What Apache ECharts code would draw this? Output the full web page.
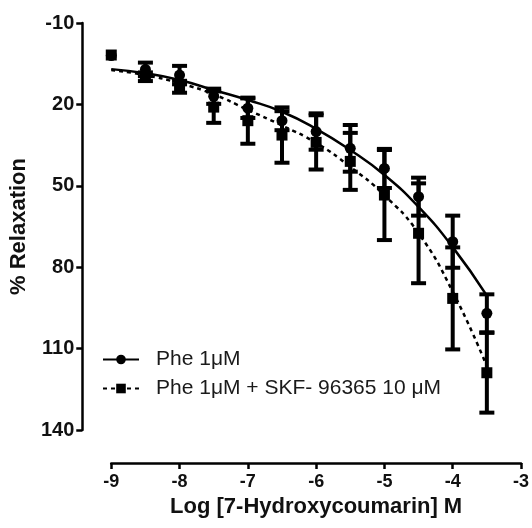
<!DOCTYPE html>
<html>
<head>
<meta charset="utf-8">
<script src="https://cdn.jsdelivr.net/npm/echarts@6/dist/echarts.min.js"></script>
<style>
html,body{margin:0;padding:0;background:#fff;}
#c{width:532px;height:528px;}
</style>
</head>
<body>
<div id="c"></div>
<script>
// log concentrations
const logConc = [-9, -8.5, -8, -7.5, -7, -6.5, -6, -5.5, -5, -4.5, -4, -3.5];
// Phe 1 uM (circles): mean and SEM
const pheMean = [2, 7.1, 9.2, 17, 21.4, 26, 30, 36.2, 43.6, 54, 70.6, 97];
const pheErr  = [0, 2.5, 3.4, 2.8, 3.6, 3.5, 6.7, 8.6, 7.2, 7, 9.6, 7];
// Phe 1 uM + SKF-96365 10 uM (squares): mean and SEM
const skfMean = [1.8, 9.8, 13.5, 21, 26, 31.3, 34, 41, 53.4, 67.5, 91.5, 118.9];
const skfErr  = [0, 1.6, 2.2, 5.8, 8.5, 10.2, 10, 10.5, 16.6, 18.4, 18.8, 14.7];
// fitted curves
const pheFit = [7.0, 8.5, 11.0, 14.7, 18.4, 22.7, 29.0, 36.8, 46.0, 57.8, 72.6, 90.5];
const skfFit = [7.3, 9.2, 12.2, 16.3, 22.0, 27.8, 34.2, 43.0, 53.5, 67.5, 89.0, 116.5];
// axes
const xTicks = [-9, -8, -7, -6, -5, -4, -3];
const yTicks = [-10, 20, 50, 80, 110, 140];

const name1 = 'Phe 1\u03bcM';
const name2 = 'Phe 1\u03bcM + SKF- 96365 10 \u03bcM';

function pairs(xs, ys) { return xs.map((x, i) => [x, ys[i]]); }
function errData(xs, m, e) { return xs.map((x, i) => [x, m[i] - e[i], m[i] + e[i]]); }

function errRender(params, api) {
  const x = api.value(0), lo = api.value(1), hi = api.value(2);
  if (hi - lo <= 0) return null;
  const a = api.coord([x, lo]), b = api.coord([x, hi]);
  const hw = 7.5;
  const st = { stroke: '#000', lineWidth: 4 };
  return {
    type: 'group',
    children: [
      { type: 'line', shape: { x1: a[0], y1: a[1], x2: b[0], y2: b[1] }, style: st },
      { type: 'line', shape: { x1: a[0] - hw, y1: a[1], x2: a[0] + hw, y2: a[1] }, style: st },
      { type: 'line', shape: { x1: b[0] - hw, y1: b[1], x2: b[0] + hw, y2: b[1] }, style: st }
    ]
  };
}

const font = 'Liberation Sans, Arial, Helvetica, sans-serif';
const chart = echarts.init(document.getElementById('c'), null, { renderer: 'canvas' });
chart.setOption({
  animation: false,
  backgroundColor: '#fff',
  grid: { left: 111, right: 9, top: 23, bottom: 98, containLabel: false },
  legend: {
    data: [name1, name2],
    orient: 'vertical',
    left: 97,
    top: 344,
    itemWidth: 36,
    itemHeight: 12,
    itemGap: 8,
    textStyle: { fontFamily: font, fontSize: 21, color: '#1a1a1a', padding: [0, 0, 0, 12] }
  },
  xAxis: {
    type: 'value',
    min: xTicks[0],
    max: xTicks[xTicks.length - 1],
    interval: 1,
    offset: 33,
    name: 'Log [7-Hydroxycoumarin] M',
    nameLocation: 'middle',
    nameGap: 33,
    nameTextStyle: { fontFamily: font, fontSize: 22, fontWeight: 'bold', color: '#111' },
    axisLine: { show: true, onZero: false, lineStyle: { color: '#000', width: 2.5 } },
    axisTick: { show: true, length: 6, lineStyle: { color: '#000', width: 2.5 } },
    axisLabel: { margin: 10, fontFamily: font, fontSize: 18, fontWeight: 'bold', color: '#111' },
    splitLine: { show: false }
  },
  yAxis: {
    type: 'value',
    inverse: true,
    min: yTicks[0],
    max: yTicks[yTicks.length - 1],
    interval: 30,
    offset: 29,
    name: '% Relaxation',
    nameLocation: 'middle',
    nameGap: 46,
    nameTextStyle: { fontFamily: font, fontSize: 22, fontWeight: 'bold', color: '#111' },
    axisLine: { show: true, onZero: false, lineStyle: { color: '#000', width: 2.5 } },
    axisTick: { show: true, length: 6, lineStyle: { color: '#000', width: 2.5 } },
    axisLabel: { margin: 8, fontFamily: font, fontSize: 20, fontWeight: 'bold', color: '#111' },
    splitLine: { show: false }
  },
  series: [
    {
      name: name1, type: 'line', data: pairs(logConc, pheFit), smooth: true,
      symbol: 'circle', symbolSize: 11, showSymbol: false,
      lineStyle: { color: '#000', width: 2.5, type: 'solid' },
      itemStyle: { color: '#000', opacity: 1 }, z: 2
    },
    {
      name: name2, type: 'line', data: pairs(logConc, skfFit), smooth: true,
      symbol: 'rect', symbolSize: 11, showSymbol: false,
      lineStyle: { color: '#000', width: 2.5, type: [4, 4] },
      itemStyle: { color: '#000', opacity: 1 }, z: 2
    },
    {
      name: 'pheErr', type: 'custom', renderItem: errRender,
      data: errData(logConc, pheMean, pheErr), encode: { x: 0, y: [1, 2] }, z: 3
    },
    {
      name: 'skfErr', type: 'custom', renderItem: errRender,
      data: errData(logConc, skfMean, skfErr), encode: { x: 0, y: [1, 2] }, z: 3
    },
    {
      name: 'pheData', type: 'scatter', data: pairs(logConc, pheMean),
      symbol: 'circle', symbolSize: 11, itemStyle: { color: '#000', opacity: 1 }, z: 4
    },
    {
      name: 'skfData', type: 'scatter', data: pairs(logConc, skfMean),
      symbol: 'rect', symbolSize: 11, itemStyle: { color: '#000', opacity: 1 }, z: 5
    }
  ]
});
</script>
</body>
</html>
